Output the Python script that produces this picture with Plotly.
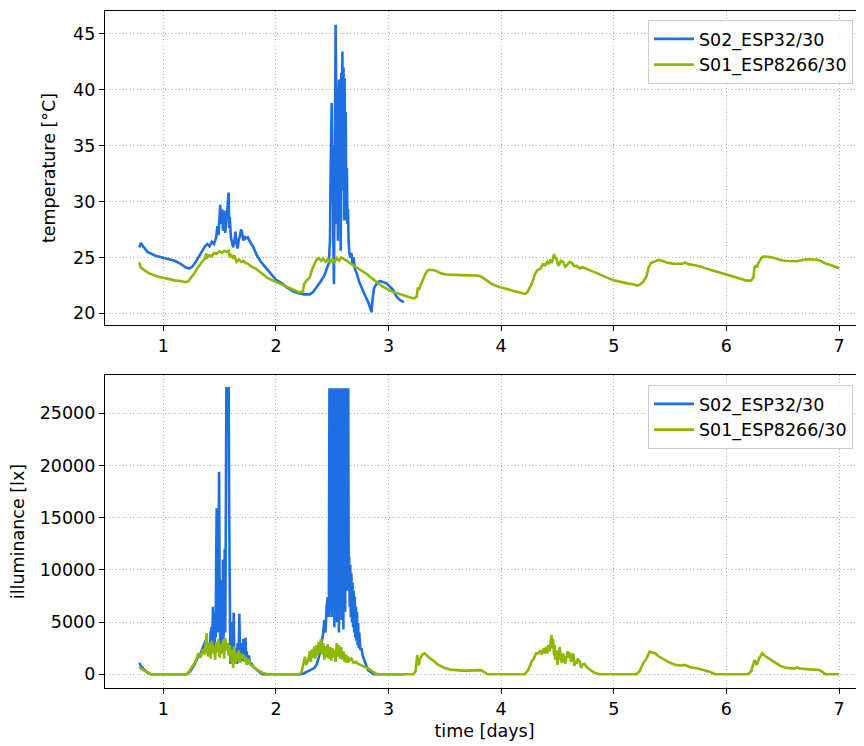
import plotly.graph_objects as go

# ---------------- data ----------------
series_names = ["S02_ESP32/30", "S01_ESP8266/30"]
x_ticks = [1, 2, 3, 4, 5, 6, 7]
temp_ticks = [20, 25, 30, 35, 40, 45]
lux_ticks = [0, 5000, 10000, 15000, 20000, 25000]

# temperature, S02_ESP32/30 (blue)
temp_blue_t = [0.787, 0.80, 0.82, 0.86, 0.93, 1.00, 1.05, 1.10, 1.15, 1.20, 1.23, 1.26, 1.30, 1.34, 1.37,
               1.39, 1.41, 1.43, 1.45, 1.47, 1.48, 1.49, 1.50, 1.505, 1.51, 1.52, 1.53, 1.54, 1.55, 1.56,
               1.57, 1.58, 1.585, 1.59, 1.60, 1.61, 1.62, 1.63, 1.64, 1.65, 1.66, 1.67, 1.68, 1.69, 1.70,
               1.71, 1.72, 1.73, 1.75, 1.77, 1.80, 1.83, 1.86, 1.90, 1.95, 2.00, 2.05, 2.10, 2.15, 2.20,
               2.25, 2.30, 2.33, 2.36, 2.40, 2.43, 2.45, 2.47, 2.475, 2.48, 2.485, 2.49, 2.495, 2.50,
               2.505, 2.51, 2.515, 2.52, 2.525, 2.53, 2.535, 2.54, 2.545, 2.55, 2.555, 2.56, 2.565, 2.57,
               2.575, 2.58, 2.585, 2.59, 2.595, 2.60, 2.605, 2.61, 2.615, 2.62, 2.625, 2.63, 2.635, 2.64,
               2.645, 2.65, 2.66, 2.67, 2.68, 2.69, 2.70, 2.72, 2.74, 2.76, 2.78, 2.80, 2.82, 2.84, 2.85,
               2.855, 2.87, 2.89, 2.92, 2.95, 2.98, 3.01, 3.04, 3.07, 3.10, 3.136]
temp_blue_v = [25.9, 26.3, 26.0, 25.5, 25.15, 24.95, 24.85, 24.7, 24.45, 24.1, 24.0, 24.2, 24.8, 25.5, 26.0,
               26.2, 26.0, 26.4, 26.2, 26.8, 27.8, 27.0, 29.0, 29.7, 28.0, 29.3, 27.4, 29.2, 27.2, 28.4,
               30.0, 30.8, 27.6, 28.6, 26.8, 26.2, 25.9, 26.4, 27.3, 26.3, 25.8, 26.6, 26.9, 27.5, 27.2,
               26.5, 26.9, 26.7, 26.8, 26.4, 25.9, 25.2, 24.7, 24.2, 23.6, 23.0, 22.7, 22.3, 22.0, 21.8,
               21.7, 21.7, 21.9, 22.3, 22.9, 23.4, 23.9, 24.5, 25.6, 26.5, 32.0, 37.0, 38.8, 30.0,
               35.0, 26.0, 22.6, 30.0, 38.0, 45.8, 40.0, 28.0, 36.0, 26.5, 38.0, 40.9, 29.0, 39.0,
               25.6, 41.5, 33.0, 43.4, 31.0, 42.0, 28.3, 41.0, 29.0, 38.0, 28.3, 33.0, 28.0, 29.3,
               26.5, 25.6, 25.0, 25.4, 24.4, 25.0, 24.0, 23.5, 22.8, 22.3, 21.8, 21.4, 21.0, 20.5, 20.1,
               21.0, 22.2, 22.6, 22.9, 22.8, 22.7, 22.4, 22.1, 21.5, 21.2, 21.0]

# temperature, S01_ESP8266/30 (green)
temp_green_t = [0.787, 0.80, 0.84, 0.88, 0.95, 1.00, 1.05, 1.10, 1.15, 1.20, 1.22, 1.25, 1.28, 1.30, 1.33,
                1.35, 1.37, 1.38, 1.39, 1.41, 1.43, 1.45, 1.47, 1.50, 1.52, 1.54, 1.56, 1.58, 1.59, 1.60,
                1.62, 1.63, 1.65, 1.67, 1.69, 1.71, 1.73, 1.75, 1.78, 1.82, 1.86, 1.92, 1.97, 2.01, 2.07,
                2.12, 2.17, 2.21, 2.24, 2.25, 2.27, 2.30, 2.32, 2.34, 2.36, 2.38, 2.40, 2.42, 2.44, 2.46,
                2.48, 2.50, 2.52, 2.54, 2.56, 2.58, 2.60, 2.63, 2.67, 2.72, 2.77, 2.81, 2.85, 2.89, 2.94,
                3.01, 3.06, 3.10, 3.16, 3.20, 3.23, 3.25, 3.26, 3.27, 3.28, 3.31, 3.33, 3.35, 3.38, 3.42,
                3.47, 3.52, 3.60, 3.70, 3.78, 3.81, 3.85, 3.88, 3.92, 3.99, 4.05, 4.11, 4.16, 4.21, 4.23,
                4.25, 4.27, 4.30, 4.32, 4.35, 4.37, 4.39, 4.41, 4.42, 4.44, 4.45, 4.46, 4.47, 4.48, 4.49,
                4.50, 4.51, 4.53, 4.55, 4.57, 4.59, 4.61, 4.63, 4.65, 4.67, 4.70, 4.72, 4.75, 4.80, 4.85,
                4.90, 4.95, 5.00, 5.06, 5.12, 5.17, 5.21, 5.23, 5.26, 5.29, 5.31, 5.33, 5.36, 5.40, 5.43,
                5.47, 5.52, 5.57, 5.61, 5.63, 5.66, 5.72, 5.77, 5.82, 5.87, 5.92, 5.97, 6.02, 6.08, 6.13,
                6.18, 6.22, 6.24, 6.25, 6.26, 6.27, 6.28, 6.31, 6.33, 6.37, 6.41, 6.45, 6.50, 6.56, 6.62,
                6.67, 6.71, 6.76, 6.80, 6.84, 6.88, 6.93, 6.97, 7.00]
temp_green_v = [24.55, 24.1, 23.8, 23.55, 23.3, 23.17, 23.05, 22.95, 22.9, 22.78, 22.85, 23.2, 23.65, 24.0, 24.45,
                24.7, 24.9, 25.35, 25.0, 25.2, 25.1, 25.4, 25.3, 25.55, 25.4, 25.6, 25.5, 25.6, 25.0, 25.3,
                24.9, 25.2, 24.6, 24.8, 24.6, 24.7, 24.5, 24.45, 24.2, 24.0, 23.7, 23.2, 22.95, 22.78, 22.5,
                22.27, 22.05, 21.88, 21.95, 22.6, 22.9, 23.2, 23.9, 24.4, 24.8, 24.95, 24.7, 24.9, 24.6, 24.85,
                24.55, 24.85, 24.6, 24.95, 24.7, 25.0, 24.9, 24.7, 24.4, 24.1, 23.8, 23.5, 23.15, 22.8, 22.45,
                22.03, 21.85, 21.7, 21.5, 21.4, 21.35, 21.5, 22.3, 22.1, 22.4, 23.2, 23.6, 23.85, 23.9, 23.8,
                23.55, 23.47, 23.42, 23.4, 23.38, 23.35, 23.1, 22.85, 22.6, 22.33, 22.15, 22.0, 21.85, 21.74, 21.85,
                22.3, 22.6, 23.5, 23.85, 24.0, 24.4, 24.3, 24.6, 24.4, 24.8, 24.5, 25.0, 25.3, 24.9, 25.0,
                24.5, 24.25, 24.7, 24.6, 24.17, 24.4, 24.6, 24.5, 24.2, 24.25, 24.0, 24.15, 24.0, 23.8, 23.6,
                23.35, 23.15, 22.97, 22.8, 22.68, 22.6, 22.48, 22.55, 22.8, 23.3, 24.1, 24.5, 24.65, 24.78, 24.7,
                24.55, 24.45, 24.42, 24.43, 24.55, 24.4, 24.3, 24.2, 24.0, 23.85, 23.75, 23.55, 23.4, 23.2, 23.05,
                22.93, 22.95, 23.2, 24.1, 24.3, 24.1, 24.4, 24.95, 25.08, 25.05, 25.0, 24.85, 24.72, 24.68, 24.66,
                24.75, 24.84, 24.82, 24.82, 24.68, 24.45, 24.3, 24.15, 24.03]

# illuminance, S02_ESP32/30 (blue)
lux_blue_t = [0.787, 0.80, 0.83, 0.86, 0.89, 1.00, 1.10, 1.21, 1.24, 1.27, 1.30, 1.33, 1.36, 1.38, 1.39,
              1.40, 1.41, 1.42, 1.43, 1.435, 1.44, 1.445, 1.45, 1.455, 1.46, 1.465, 1.47, 1.474, 1.478,
              1.482, 1.486, 1.49, 1.495, 1.50, 1.505, 1.51, 1.515, 1.52, 1.525, 1.53, 1.535, 1.54, 1.545,
              1.55, 1.555, 1.56, 1.57, 1.58, 1.585, 1.59, 1.595, 1.60, 1.605, 1.61, 1.615, 1.62, 1.625,
              1.63, 1.635, 1.64, 1.645, 1.65, 1.655, 1.66, 1.665, 1.67, 1.675, 1.68, 1.685, 1.69, 1.695,
              1.70, 1.705, 1.71, 1.715, 1.72, 1.73, 1.735, 1.74, 1.75, 1.76, 1.77, 1.78, 1.80, 1.82, 1.85,
              1.88, 2.00, 2.10, 2.22, 2.25, 2.28, 2.31, 2.34, 2.36, 2.38, 2.40, 2.42, 2.43, 2.44, 2.45,
              2.46, 2.47, 2.475, 2.479, 2.483, 2.487, 2.491, 2.495, 2.499, 2.503, 2.507, 2.511, 2.515,
              2.519, 2.523, 2.527, 2.531, 2.535, 2.539, 2.543, 2.547, 2.551, 2.555, 2.559, 2.563, 2.567,
              2.571, 2.575, 2.579, 2.583, 2.587, 2.591, 2.595, 2.599, 2.603, 2.607, 2.611, 2.615, 2.619,
              2.623, 2.627, 2.631, 2.635, 2.639, 2.642, 2.646, 2.65, 2.655, 2.66, 2.665, 2.67, 2.675,
              2.68, 2.685, 2.69, 2.695, 2.70, 2.705, 2.71, 2.715, 2.72, 2.725, 2.73, 2.735, 2.74, 2.75,
              2.76, 2.77, 2.78, 2.79, 2.81, 2.82, 2.85, 2.87, 2.95, 3.05, 3.136]
lux_blue_v = [1100, 800, 450, 150, 0, 0, 0, 0, 300, 800, 1500, 2000, 2800, 3300, 2200,
              2900, 1800, 4000, 4560, 2500, 6480, 3000, 5500, 2200, 6000, 3500, 12000, 15900, 9000,
              15200, 4000, 10000, 19400, 8000, 3000, 6000, 2000, 9000, 2500, 11000, 3500, 6000, 12000,
              4000, 15000, 27400, 27400, 27400, 15200, 3000, 1000, 3500, 1500, 4000, 5000, 1500, 5900,
              2000, 1000, 2500, 1500, 2000, 1000, 3000, 1500, 2500, 5800, 2500, 1200, 3000, 1500,
              2800, 1300, 3400, 1800, 2500, 3500, 1500, 2200, 1000, 1800, 900, 1100, 700, 500, 250,
              0, 0, 0, 0, 100, 250, 400, 600, 900, 1600, 2600, 4000, 5200, 4000, 6500,
              7400, 5500, 27400, 6000, 27400, 7000, 27400, 5500, 27400, 7500, 27400, 6500, 27400,
              4500, 27400, 7000, 27400, 6000, 27400, 5000, 27400, 6800, 27400, 4000, 27400, 6200,
              27400, 7400, 27400, 5200, 27400, 6600, 27400, 4300, 27400, 7200, 27400, 6000, 27400,
              8000, 27400, 9000, 27400, 10000, 27400, 8000, 11270, 6500, 10500, 5500, 9670, 5000,
              8800, 4500, 8000, 4000, 7430, 3500, 6500, 3200, 6000, 2800, 4900, 2500, 4000, 2300,
              2500, 1800, 1500, 1030, 600, 380, 150, 0, 0, 0, 0]

# illuminance, S01_ESP8266/30 (green)
lux_green_t = [0.787, 0.80, 0.83, 0.86, 0.88, 0.90, 1.00, 1.10, 1.207, 1.23, 1.266, 1.29, 1.31, 1.33, 1.35,
               1.37, 1.385, 1.39, 1.40, 1.41, 1.42, 1.43, 1.44, 1.45, 1.46, 1.47, 1.48, 1.49, 1.50, 1.51,
               1.52, 1.53, 1.54, 1.55, 1.56, 1.57, 1.58, 1.59, 1.60, 1.61, 1.62, 1.63, 1.64, 1.65, 1.66,
               1.67, 1.68, 1.69, 1.70, 1.71, 1.72, 1.73, 1.74, 1.75, 1.77, 1.80, 1.84, 1.88, 1.92, 2.00,
               2.10, 2.21, 2.23, 2.257, 2.27, 2.29, 2.30, 2.31, 2.32, 2.33, 2.34, 2.35, 2.36, 2.37, 2.38,
               2.39, 2.40, 2.41, 2.42, 2.43, 2.44, 2.45, 2.46, 2.47, 2.48, 2.49, 2.50, 2.51, 2.52, 2.53,
               2.54, 2.55, 2.56, 2.57, 2.58, 2.59, 2.60, 2.61, 2.62, 2.63, 2.64, 2.65, 2.67, 2.69, 2.71,
               2.73, 2.75, 2.77, 2.80, 2.83, 2.86, 2.89, 2.92, 3.00, 3.10, 3.22, 3.24, 3.255, 3.26, 3.27,
               3.28, 3.30, 3.32, 3.34, 3.37, 3.40, 3.43, 3.46, 3.50, 3.55, 3.60, 3.65, 3.70, 3.75, 3.80,
               3.82, 3.85, 3.88, 4.00, 4.10, 4.21, 4.24, 4.27, 4.29, 4.31, 4.33, 4.35, 4.36, 4.38, 4.39,
               4.40, 4.41, 4.42, 4.43, 4.44, 4.447, 4.455, 4.46, 4.47, 4.475, 4.48, 4.49, 4.50, 4.51, 4.52,
               4.53, 4.54, 4.55, 4.56, 4.57, 4.58, 4.59, 4.60, 4.61, 4.62, 4.63, 4.64, 4.65, 4.66, 4.67,
               4.68, 4.70, 4.71, 4.72, 4.74, 4.76, 4.78, 4.80, 4.83, 4.87, 5.00, 5.10, 5.20, 5.23, 5.26,
               5.29, 5.30, 5.318, 5.34, 5.37, 5.40, 5.43, 5.46, 5.50, 5.55, 5.60, 5.63, 5.66, 5.69, 5.73,
               5.77, 5.81, 5.85, 5.88, 5.90, 6.00, 6.10, 6.19, 6.22, 6.24, 6.25, 6.26, 6.27, 6.29, 6.31,
               6.318, 6.33, 6.35, 6.38, 6.41, 6.44, 6.48, 6.52, 6.56, 6.60, 6.63, 6.65, 6.71, 6.76, 6.80,
               6.82, 6.85, 6.88, 6.95, 7.00]
lux_green_v = [730, 550, 350, 150, 60, 0, 0, 0, 0, 300, 890, 1300, 2010, 1600, 2400,
               1900, 3930, 2600, 1700, 3000, 1500, 3200, 2000, 2800, 1400, 3100, 2100, 3400, 1600, 2900,
               2200, 3300, 1500, 3500, 2300, 3000, 1800, 2800, 1200, 2400, 600, 2700, 1000, 2000, 1300,
               2300, 1100, 2000, 1500, 1900, 1200, 1700, 900, 1500, 1000, 700, 400, 150, 0, 0,
               0, 0, 300, 1690, 900, 1500, 2200, 1200, 2400, 1600, 2650, 1500, 2800, 1800, 3100,
               2000, 3400, 1900, 3000, 1400, 2700, 1600, 2900, 1500, 2600, 1300, 2500, 1600, 2300, 1200,
               3000, 1700, 2800, 1500, 2600, 1400, 2200, 1200, 1900, 1100, 1700, 1300, 1500, 1100, 1200,
               1000, 900, 800, 650, 500, 250, 60, 0, 0, 0, 0, 300, 1850, 1000, 900,
               1500, 1900, 2010, 1800, 1500, 1300, 1000, 800, 600, 450, 380, 350, 350, 380, 420,
               400, 200, 0, 0, 0, 0, 400, 1210, 1500, 2010, 2000, 2300, 1900, 2500, 2000,
               2650, 2000, 2800, 2200, 3000, 3770, 2500, 3400, 1800, 2800, 1400, 2300, 900, 1900, 2600,
               1500, 1100, 2000, 1300, 1000, 1700, 2200, 1600, 2100, 1200, 1600, 2000, 800, 1300, 1000,
               1500, 1200, 600, 900, 1000, 700, 500, 350, 150, 0, 0, 0, 0, 300, 1050,
               1500, 1800, 2170, 2100, 2000, 1700, 1500, 1370, 1100, 900, 850, 900, 800, 640, 600,
               500, 400, 250, 100, 0, 0, 0, 0, 300, 1000, 1370, 1100, 900, 1500, 1900,
               2010, 1900, 1700, 1500, 1300, 1050, 800, 650, 570, 550, 650, 550, 500, 480, 450,
               420, 250, 0, 0, 0]

# ---------------- figure ----------------
BLUE = "#1f6fe3"
GREEN = "#8cb900"
FONT = "DejaVu Sans"
FS = 17.5
LW = 2.6

fig = go.Figure()
fig.add_trace(go.Scatter(x=temp_blue_t, y=temp_blue_v, mode="lines", name=series_names[0],
                         line=dict(color=BLUE, width=LW), xaxis="x", yaxis="y", legend="legend"))
fig.add_trace(go.Scatter(x=temp_green_t, y=temp_green_v, mode="lines", name=series_names[1],
                         line=dict(color=GREEN, width=LW), xaxis="x", yaxis="y", legend="legend"))
fig.add_trace(go.Scatter(x=lux_blue_t, y=lux_blue_v, mode="lines", name=series_names[0],
                         line=dict(color=BLUE, width=LW), xaxis="x2", yaxis="y2", legend="legend2"))
fig.add_trace(go.Scatter(x=lux_green_t, y=lux_green_v, mode="lines", name=series_names[1],
                         line=dict(color=GREEN, width=LW), xaxis="x2", yaxis="y2", legend="legend2"))

axis_common = dict(showline=True, mirror=True, linecolor="black", linewidth=1.2,
                   ticks="outside", ticklen=5, tickwidth=1.2, tickcolor="black",
                   showgrid=True, gridcolor="#b0b0b0", griddash="1px,2.5px", gridwidth=1.2,
                   zeroline=False, tickfont=dict(family=FONT, size=FS, color="black"))

legend_common = dict(xanchor="left", yanchor="top",
                     bgcolor="rgba(255,255,255,0.85)", bordercolor="#cccccc", borderwidth=1,
                     font=dict(family=FONT, size=FS), tracegroupgap=0,
                     itemwidth=40, entrywidth=162, entrywidthmode="pixels")

x_range = [0.482, 7.222]
# the page body adds an 8 px offset, so the figure is 8 px smaller than the window
fig.update_layout(
    width=856, height=738,
    margin=dict(l=97, r=0, t=3, b=58),
    paper_bgcolor="white", plot_bgcolor="white",
    font=dict(family=FONT, size=FS, color="black"),
    xaxis=dict(domain=[0, 1], anchor="y", range=x_range, tickvals=x_ticks, **axis_common),
    yaxis=dict(domain=[0.5362, 1], anchor="x", range=[18.96, 47.03], tickvals=temp_ticks,
               title=dict(text="temperature [°C]", font=dict(family=FONT, size=FS), standoff=12),
               **axis_common),
    xaxis2=dict(domain=[0, 1], anchor="y2", range=x_range, tickvals=x_ticks,
                title=dict(text="time [days]", font=dict(family=FONT, size=FS), standoff=6),
                **axis_common),
    yaxis2=dict(domain=[0, 0.4623], anchor="x2", range=[-1312, 28668], tickvals=lux_ticks,
                tickformat="d",
                title=dict(text="illuminance [lx]", font=dict(family=FONT, size=FS), standoff=12),
                **axis_common),
    legend=dict(x=0.7154, y=0.9867, **legend_common),
    legend2=dict(x=0.7154, y=0.4476, **legend_common),
)

fig.write_html("out.html")
